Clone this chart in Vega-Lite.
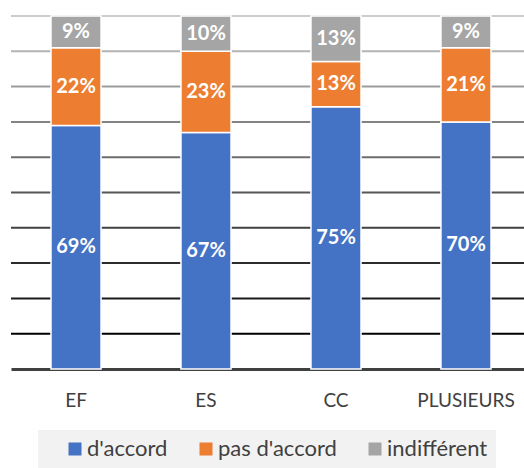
{
  "$schema": "https://vega.github.io/schema/vega-lite/v6.json",
  "width": 520,
  "height": 353,
  "autosize": {"type": "none"},
  "padding": {"left": 11, "top": 16, "right": 0, "bottom": 99},
  "background": "white",
  "config": {"view": {"stroke": null}, "font": "Lato"},
  "datasets": {
    "bars": [
      {"cat": "EF", "s": "d'accord", "k": 1, "v": 0.69},
      {"cat": "EF", "s": "pas d'accord", "k": 2, "v": 0.22},
      {"cat": "EF", "s": "indifférent", "k": 3, "v": 0.09},
      {"cat": "ES", "s": "d'accord", "k": 1, "v": 0.67},
      {"cat": "ES", "s": "pas d'accord", "k": 2, "v": 0.23},
      {"cat": "ES", "s": "indifférent", "k": 3, "v": 0.10},
      {"cat": "CC", "s": "d'accord", "k": 1, "v": 0.75},
      {"cat": "CC", "s": "pas d'accord", "k": 2, "v": 0.13},
      {"cat": "CC", "s": "indifférent", "k": 3, "v": 0.13},
      {"cat": "PLUSIEURS", "s": "d'accord", "k": 1, "v": 0.70},
      {"cat": "PLUSIEURS", "s": "pas d'accord", "k": 2, "v": 0.21},
      {"cat": "PLUSIEURS", "s": "indifférent", "k": 3, "v": 0.09}
    ],
    "grid": [
      {"g": 0.1}, {"g": 0.2}, {"g": 0.3}, {"g": 0.4}, {"g": 0.5},
      {"g": 0.6}, {"g": 0.7}, {"g": 0.8}, {"g": 0.9}, {"g": 1.0}
    ]
  },
  "layer": [
    {
      "data": {"name": "grid"},
      "mark": {"type": "rule", "strokeWidth": 2},
      "encoding": {
        "y": {"field": "g", "type": "quantitative", "scale": {"domain": [0, 1]}, "axis": null},
        "color": {
          "field": "g", "type": "quantitative",
          "scale": {"domain": [0.1, 1.0], "range": ["#000000", "#cccccc"]},
          "legend": null
        }
      }
    },
    {
      "data": {"name": "bars"},
      "layer": [
        {
          "mark": {"type": "bar", "stroke": "white", "strokeWidth": 1.5},
          "encoding": {
            "x": {
              "field": "cat", "type": "nominal",
              "sort": ["EF", "ES", "CC", "PLUSIEURS"],
              "scale": {"paddingInner": 0.615, "paddingOuter": 0.3077},
              "axis": {
                "title": null, "labelAngle": 0, "ticks": false, "grid": false,
                "domainColor": "#404040", "domainWidth": 3,
                "labelFontSize": 19, "labelColor": "#404040", "labelPadding": 22
              }
            },
            "y": {
              "field": "v", "type": "quantitative", "stack": "normalize",
              "axis": null
            },
            "order": {"field": "k"},
            "color": {
              "field": "s", "type": "nominal",
              "scale": {
                "domain": ["d'accord", "pas d'accord", "indifférent"],
                "range": ["#4472C4", "#ED7D31", "#A5A5A5"]
              },
              "legend": {
                "title": null, "orient": "none", "direction": "horizontal",
                "legendX": 27, "legendY": 414,
                "fillColor": "#f2f2f2", "padding": 8,
                "symbolType": "square", "symbolSize": 169, "symbolStrokeWidth": 0,
                "symbolOffset": 18, "columnPadding": 9,
                "labelFontSize": 22, "labelColor": "#404040", "labelOffset": 1
              }
            }
          }
        },
        {
          "mark": {"type": "text", "color": "white", "fontWeight": "bold", "fontSize": 20, "baseline": "middle"},
          "encoding": {
            "x": {"field": "cat", "type": "nominal", "sort": ["EF", "ES", "CC", "PLUSIEURS"]},
            "y": {
              "field": "v", "type": "quantitative", "stack": "normalize",
              "bandPosition": 0.5, "axis": null
            },
            "order": {"field": "k"},
            "detail": {"field": "s"},
            "text": {"field": "v", "type": "quantitative", "format": ".0%"}
          }
        }
      ]
    }
  ],
  "resolve": {"scale": {"color": "independent"}}
}
